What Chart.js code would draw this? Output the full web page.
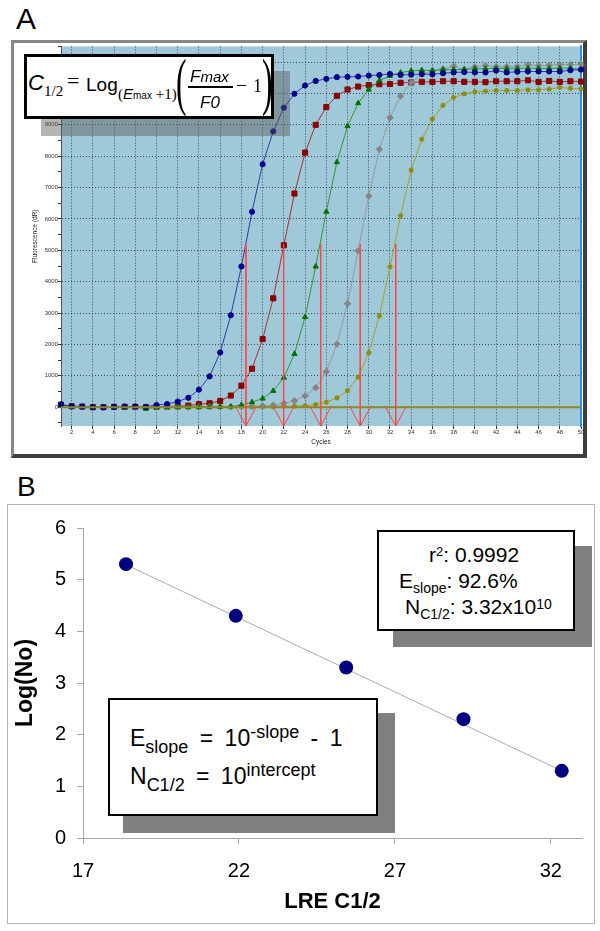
<!DOCTYPE html>
<html><head><meta charset="utf-8">
<script src="https://cdn.jsdelivr.net/npm/chart.js@4.4.1/dist/chart.umd.min.js"></script>
<style>
html,body{margin:0;padding:0;background:#fff;}
body{width:600px;height:931px;position:relative;overflow:hidden;font-family:"Liberation Sans",Arial,sans-serif;color:#000;}
.abs{position:absolute;}
#frameA{left:11px;top:40px;width:576px;height:418px;box-sizing:border-box;border-style:solid;border-width:3px 4px 4px 3px;border-color:#878787 #3e3e3e #3e3e3e #878787;background:#fff;}
#cA{left:14px;top:41px;}
#shadowA{left:41px;top:71px;width:249px;height:65px;background:rgba(90,90,90,0.45);}
#boxA{left:24px;top:54px;width:250px;height:65px;box-sizing:border-box;border:3px solid #000;background:#fff;}
#fracBar{left:188px;top:86px;width:45px;height:1.5px;background:#000;}
#frameB{left:7px;top:504px;width:588px;height:420px;box-sizing:border-box;border:1px solid #b4b4b4;background:#fff;}
#cB{left:8px;top:505px;}
#shadowB1{left:393px;top:546px;width:199px;height:101px;background:#808080;}
#boxB1{left:377px;top:530px;width:198px;height:101px;box-sizing:border-box;border:2px solid #000;background:#fff;}
#shadowB2{left:123px;top:713px;width:272px;height:120px;background:#808080;}
#boxB2{left:108px;top:698px;width:270px;height:118px;box-sizing:border-box;border:2px solid #000;background:#fff;}
.tm{font-family:"Liberation Serif","Times New Roman",serif;}
.lz{line-height:0;}
</style>
</head>
<body>
<div id="frameA" class="abs"></div>
<canvas id="cA" class="abs" width="580" height="413"></canvas>
<div id="shadowA" class="abs"></div>
<div id="boxA" class="abs"></div>
<div id="fracBar" class="abs"></div>
<div id="frameB" class="abs"></div>
<canvas id="cB" class="abs" width="586" height="418"></canvas>
<div id="shadowB1" class="abs"></div>
<div id="boxB1" class="abs"></div>
<div id="shadowB2" class="abs"></div>
<div id="boxB2" class="abs"></div>
<script>
// ---------------- Panel A data ----------------
const cyclesA = [1,2,3,4,5,6,7,8,9,10,11,12,13,14,15,16,17,18,19,20,21,22,23,24,25,26,27,28,29,30,31,32,33,34,35,36,37,38,39,40,41,42,43,44,45,46,47,48,49,50];
const blueA = [90,30,20,0,0,10,20,20,10,70,
  100,180,300,560,980,1745,2930,4485,6230,7745,
  8790,9545,9990,10255,10400,10465,10520,10530,10540,10570,
  10590,10620,10590,10600,10620,10610,10645,10670,10680,10670,
  10670,10730,10670,10690,10700,10700,10700,10700,10740,10760];
const redA = [80,30,20,0,0,10,10,10,0,10,
  20,30,50,95,125,200,370,685,1225,2170,
  3470,5160,6810,8115,9000,9565,9925,10125,10220,10265,
  10295,10300,10340,10350,10370,10370,10390,10390,10370,10370,
  10360,10390,10390,10390,10420,10370,10400,10370,10390,10380];
const greenA = [60,20,10,0,0,-10,0,10,-50,0,
  0,0,0,0,10,10,20,70,160,275,
  520,940,1700,2875,4485,6230,7810,8960,9690,10125,
  10410,10560,10665,10720,10740,10730,10760,10760,10770,10790,
  10790,10800,10790,10790,10810,10800,10800,10810,10810,10770];
const grayA = [60,10,20,0,0,0,10,0,0,10,
  10,10,0,10,20,10,10,20,30,40,
  60,125,200,360,620,1130,2010,3300,4985,6730,
  8220,9225,9915,10350,10610,10720,10780,10870,10760,10850,
  10890,10850,10850,10860,10920,10890,10900,10920,10920,10930];
const oliveA = [50,20,10,0,0,0,0,0,10,0,
  0,0,0,0,0,10,10,10,10,20,
  20,30,30,50,80,160,295,530,960,1735,
  2910,4475,6105,7555,8540,9185,9620,9870,9990,10050,
  10070,10095,10095,10095,10115,10115,10135,10190,10160,10150];
const c12A = [18.43, 21.98, 25.47, 29.2, 32.54];   // C1/2 arrows
const arrowTopA = 5200;
const xTicksA = [2,4,6,8,10,12,14,16,18,20,22,24,26,28,30,32,34,36,38,40,42,44,46,48,50];
const yTicksA = [0,1000,2000,3000,4000,5000,6000,7000,8000,9000,10000,11000];

// ---------------- Panel B data ----------------
const lreB = [18.38, 21.9, 25.44, 29.2, 32.35];
const logNoB = [5.3, 4.3, 3.3, 2.3, 1.3];
const trendXB = [18.38, 32.35];
const trendYB = [5.29, 1.30];
const xTicksB = [17, 22, 27, 32];
const yTicksB = [0, 1, 2, 3, 4, 5, 6];

const SANS = '"Liberation Sans", Arial, sans-serif';
Chart.defaults.font.family = SANS;
Chart.defaults.color = '#000';

const bgPlugin = {
  id: 'plotBg',
  beforeDraw(chart, args, opts) {
    if (!opts || !opts.color) return;
    const {ctx, chartArea: a} = chart;
    ctx.save();
    ctx.fillStyle = opts.color;
    ctx.fillRect(a.left, a.top, a.right - a.left, a.bottom - a.top);
    ctx.restore();
  }
};

const pts = (xs, ys) => xs.map((x, i) => ({x: x, y: ys[i]}));
const Y_MIN_A = -600, Y_MAX_A = 11500;

// arrows built from C1/2 values
const arrowData = [];
c12A.forEach(c => {
  arrowData.push({x: c, y: arrowTopA}, {x: c, y: Y_MIN_A}, {x: c, y: null});
  arrowData.push({x: c - 1, y: 30}, {x: c, y: Y_MIN_A}, {x: c + 1, y: 30}, {x: c, y: null});
});

// minor ticks every 500 on the y axis
const minorA = [];
for (let v = -500; v <= Y_MAX_A; v += 500) minorA.push(v);

const gridColA = 'rgba(30,30,50,0.75)';
function series(data, line, mark, style, r, order, extra) {
  return Object.assign({
    data: pts(cyclesA, data), showLine: true, borderColor: line, borderWidth: 1,
    pointStyle: style, pointRadius: r, pointBackgroundColor: mark, pointBorderColor: mark,
    pointBorderWidth: 1, order: order, clip: false, tension: 0
  }, extra || {});
}

new Chart(document.getElementById('cA'), {
  type: 'scatter',
  data: {
    datasets: [
      {data: arrowData, showLine: true, spanGaps: false, borderColor: '#ff4646', borderWidth: 1, pointRadius: 0, order: 0},
      {data: [{x: 1, y: 0}, {x: 50, y: 0}], showLine: true, borderColor: '#8a8a26', borderWidth: 2, pointRadius: 0, order: 1},
      series(blueA, '#2c3cb0', '#00008b', 'circle', 2.6, 2),
      series(greenA, '#2f9a2f', '#007000', 'triangle', 3, 3),
      series(grayA, '#9a9a9a', '#858585', 'rectRot', 3.2, 4),
      series(redA, '#a83232', '#8b0000', 'rect', 3.6, 5),
      series(oliveA, '#a3a326', '#8e8e10', 'star', 2.6, 6, {pointBorderWidth: 1.4})
    ]
  },
  plugins: [bgPlugin],
  options: {
    responsive: false, animation: false, devicePixelRatio: 1, events: [],
    layout: {padding: {top: 4, right: 0, left: 0, bottom: 0}},
    plugins: {legend: {display: false}, tooltip: {enabled: false}, plotBg: {color: '#9fc8d8'}},
    scales: {
      x: {
        type: 'linear', min: 1, max: 50,
        afterBuildTicks: s => { s.ticks = xTicksA.map(v => ({value: v})); },
        afterFit: s => { s.height = 28; },
        grid: {color: gridColA, tickColor: '#333', tickLength: 3, lineWidth: 1},
        border: {display: false, dash: [1, 2]},
        ticks: {font: {size: 6}, color: '#333', padding: 0, maxRotation: 0, autoSkip: false},
        title: {display: true, text: 'Cycles', font: {size: 6.5}, color: '#222', padding: {top: 0, bottom: 7.4}}
      },
      y: {
        type: 'linear', min: Y_MIN_A, max: Y_MAX_A,
        afterBuildTicks: s => { s.ticks = minorA.map(v => ({value: v})); },
        afterFit: s => { s.width = 47; },
        grid: {
          color: c => (c.tick && yTicksA.includes(c.tick.value)) ? gridColA : 'rgba(0,0,0,0)',
          tickColor: '#333', tickLength: 3, lineWidth: 1
        },
        border: {display: true, color: '#555', width: 1, dash: [1, 2]},
        ticks: {
          callback: v => yTicksA.includes(v) ? String(v) : '',
          font: {size: 6}, color: '#333', padding: 0, autoSkip: false
        },
        title: {display: true, text: 'Fluorescence (dR)', font: {size: 6.5}, color: '#222', padding: {top: 17.6, bottom: 0}}
      },
      y2: {
        type: 'linear', position: 'right', display: true,
        afterFit: s => { s.width = 13; },
        grid: {display: false}, ticks: {display: false},
        border: {display: true, color: '#2d8cf0', width: 2}
      }
    }
  }
});

new Chart(document.getElementById('cB'), {
  type: 'scatter',
  data: {
    datasets: [
      {data: pts(lreB, logNoB), showLine: false, pointRadius: 7, pointBackgroundColor: '#000080', pointBorderWidth: 0, order: 0, clip: false},
      {data: pts(trendXB, trendYB), showLine: true, borderColor: '#ababab', borderWidth: 1, pointRadius: 0, order: 1}
    ]
  },
  options: {
    responsive: false, animation: false, devicePixelRatio: 1, events: [],
    layout: {padding: {top: 20, right: 12, left: 0, bottom: 0}},
    plugins: {legend: {display: false}, tooltip: {enabled: false}},
    scales: {
      x: {
        type: 'linear', min: 17, max: 33,
        afterBuildTicks: s => { s.ticks = xTicksB.map(v => ({value: v})); },
        afterFit: s => { s.height = 85; },
        grid: {drawOnChartArea: false, drawTicks: true, tickLength: 6, tickColor: '#a8a8a8'},
        border: {display: true, color: '#a8a8a8', width: 1},
        ticks: {font: {size: 20}, color: '#000', padding: 15, maxRotation: 0, autoSkip: false},
        title: {display: true, text: 'LRE C1/2', font: {size: 22, weight: 'bold'}, color: '#000', padding: {top: 0, bottom: 7.8}}
      },
      y: {
        type: 'linear', min: 0, max: 6,
        afterBuildTicks: s => { s.ticks = yTicksB.map(v => ({value: v})); },
        afterFit: s => { s.width = 75; },
        grid: {drawOnChartArea: false, drawTicks: true, tickLength: 6, tickColor: '#a8a8a8'},
        border: {display: true, color: '#a8a8a8', width: 1},
        ticks: {font: {size: 20}, color: '#000', padding: 11, autoSkip: false},
        title: {display: true, text: 'Log(No)', font: {size: 23, weight: 'bold'}, color: '#000', padding: {top: 4.2, bottom: 0}}
      }
    }
  }
});

// ---------------- text annotations (real text) ----------------
function put(html, x, base, size, fam, extra) {
  const d = document.createElement('div');
  d.className = 'abs';
  const serif = fam === 'serif';
  const asc = serif ? 0.8375 : 0.8465;
  d.style.left = x + 'px';
  d.style.top = (base - asc * size) + 'px';
  d.style.fontSize = size + 'px';
  d.style.lineHeight = size + 'px';
  d.style.fontFamily = serif ? '"Liberation Serif","Times New Roman",serif' : SANS;
  d.style.whiteSpace = 'nowrap';
  if (extra) Object.assign(d.style, extra);
  d.innerHTML = html;
  document.body.appendChild(d);
  return d;
}
// panel letters
put('A', 16, 29, 30, 'sans');
put('B', 17, 497, 28, 'sans');

// formula of panel A
put('<i>C</i>', 28, 91, 22, 'sans');
put('1/2', 44, 97, 15, 'serif');
put('=', 67, 88, 22, 'serif');
put('Log', 86, 91, 19, 'sans');
put('<span class="tm">(</span><i>E</i><span class="lz" style="font-size:10px">max</span><span class="tm"> +1)</span>', 118, 99, 15, 'sans');
put('(', 175.5, 104, 63, 'serif', {transform: 'scaleX(0.5)', transformOrigin: '0 0'});
put('<i>F</i><i class="lz" style="font-size:15px">max</i>', 190, 82, 17, 'sans');
put('<i>F0</i>', 200, 108.5, 17, 'sans');
put('\u2212', 236, 92, 20, 'serif');
put('1', 253, 92, 18, 'serif');
put(')', 262, 104, 63, 'serif', {transform: 'scaleX(0.5)', transformOrigin: '0 0'});

// statistics box of panel B
put('r<span class="lz" style="font-size:13px;vertical-align:6px">2</span>: 0.9992', 429, 562, 21, 'sans');
put('E<span class="lz" style="font-size:14px;vertical-align:-5px">slope</span>: 92.6%', 399, 588, 21, 'sans');
put('N<span class="lz" style="font-size:14px;vertical-align:-5px">C1/2</span>: 3.32x10<span class="lz" style="font-size:14px;vertical-align:5px">10</span>', 405, 614, 21, 'sans');

// equations box of panel B
put('E<span class="lz" style="font-size:18px;vertical-align:-7px">slope</span> = 10<span class="lz" style="font-size:18px;vertical-align:8px">-slope</span> - 1', 130, 746, 23, 'sans', {wordSpacing: '5px'});
put('N<span class="lz" style="font-size:18px;vertical-align:-7px">C1/2</span> = 10<span class="lz" style="font-size:18px;vertical-align:8px">intercept</span>', 130, 784, 23, 'sans', {wordSpacing: '5px'});
</script>
</body></html>
